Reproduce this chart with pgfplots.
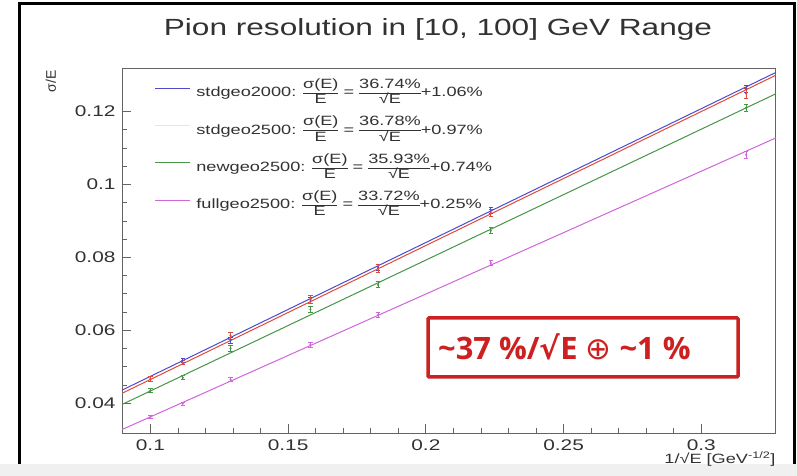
\documentclass[border=0pt]{standalone}
\usepackage{fontspec}
\setmainfont{Liberation Sans}[FakeStretch=1.35]
\newfontfamily\plainsans{Liberation Sans}
\newfontfamily\os{Open Sans}
\newfontfamily\dejavu{DejaVu Sans}
\usepackage{pgfplots}
\usepackage{pgfplotstable}
\pgfplotsset{compat=1.18}
\definecolor{cblue}{RGB}{75,75,205}
\definecolor{cred}{RGB}{222,75,60}
\definecolor{cgreen}{RGB}{70,150,70}
\definecolor{cmag}{RGB}{210,100,220}
\definecolor{cpink}{RGB}{245,222,228}
\definecolor{boxred}{RGB}{205,32,32}
\definecolor{axgray}{RGB}{100,100,100}
\definecolor{txt}{RGB}{50,50,50}
\newcommand{\fr}[2]{$\vcenter{\hbox{\setlength{\tabcolsep}{0pt}\renewcommand{\arraystretch}{1}\begin{tabular}{c}\rule[-3bp]{0pt}{12bp}#1\\\hline\rule[-2.5bp]{0pt}{11.5bp}#2\end{tabular}}}$}

\pgfplotstableread{
x y e
0.1000 0.0466 0.0006
0.1118 0.0517 0.0006
0.1291 0.0573 0.0008
0.1581 0.0683 0.0008
0.1826 0.0773 0.0008
0.2236 0.0928 0.0008
0.3162 0.1262 0.0010
}\tblue
\pgfplotstableread{
x y e
0.1000 0.0466 0.0007
0.1118 0.0511 0.0006
0.1291 0.0585 0.0010
0.1581 0.0685 0.0010
0.1826 0.0770 0.0010
0.2236 0.0922 0.0010
0.3162 0.1250 0.0014
}\tred
\pgfplotstableread{
x y e
0.1000 0.0435 0.0005
0.1118 0.0470 0.0006
0.1291 0.0550 0.0008
0.1581 0.0657 0.0009
0.1826 0.0725 0.0008
0.2236 0.0873 0.0008
0.3162 0.1210 0.0010
}\tgreen
\pgfplotstableread{
x y e
0.1000 0.0362 0.0004
0.1118 0.0399 0.0004
0.1291 0.0465 0.0005
0.1581 0.0560 0.0006
0.1826 0.0642 0.0006
0.2236 0.0785 0.0007
0.3162 0.1082 0.0010
}\tmag

\begin{document}
\begin{tikzpicture}[x=1bp,y=1bp]
\fill[white] (0,0) rectangle (797,476);
\fill[black!6] (0,0) rectangle (797,12);
\draw[black, line width=3bp] (19,12) -- (19,472) -- (794,472) -- (794,12);
\useasboundingbox (0,0) rectangle (797,476);
\node[txt, font=\fontsize{23.5}{26}\selectfont, anchor=base] at (438,440) {Pion resolution in [10, 100] GeV Range};
\begin{axis}[
  at={(122bp,43bp)}, anchor=south west,
  scale only axis, width=653.7bp, height=364.7bp,
  xmin=0.0897, xmax=0.327, ymin=0.0318, ymax=0.1319,
  xtick={0.1,0.15,0.2,0.25,0.3}, minor x tick num=4,
  ytick={0.04,0.06,0.08,0.1,0.12}, minor y tick num=3,
  tick align=inside, xtick pos=left, ytick pos=left,
  axis line style={draw=axgray, line width=0.8bp},
  every tick/.style={draw=axgray, line width=0.8bp},
  major tick length=9bp, minor tick length=5bp,
  scaled ticks=false,
  /pgf/number format/assume math mode=true,
  /pgf/number format/fixed,
  ticklabel style={font=\fontsize{15.5}{16}\selectfont, text=txt},
  xticklabel style={yshift=-3.5bp},
  yticklabel style={xshift=-3bp},
  ylabel={{\plainsans σ/E}},
  ylabel style={at={(rel axis cs:-0.1086,0.995)}, anchor=east, font=\fontsize{14}{15}\selectfont, text=txt, inner sep=0pt},
  xlabel={1/√E [GeV\textsuperscript{-1/2}]},
  xlabel style={at={(rel axis cs:1,-0.05)}, anchor=north east, font=\fontsize{13.5}{15}\selectfont, text=txt, inner sep=0pt},
  legend style={at={(rel axis cs:0.05,0.978)}, anchor=north west, draw=none, fill=none,
    font=\fontsize{13.5}{15}\selectfont, row sep=14bp, column sep=4bp, inner sep=0pt,
    nodes={inner sep=1.5bp, text=txt}},
  legend cell align=left,
  legend image code/.code={\draw[#1, line width=1bp] (0bp,0bp) -- (35bp,0bp);},
]
\addplot[cblue, line width=1bp] coordinates {(0.0897,0.043556) (0.327,0.13074)};
\addlegendentry{stdgeo2000: \fr{σ(E)}{E} = \fr{36.74\%}{√E}+1.06\%}
\addplot[cred, line width=1bp, legend image code/.code={\draw[cpink, line width=1bp] (0bp,0bp) -- (35bp,0bp);}] coordinates {(0.0897,0.042692) (0.327,0.129971)};
\addlegendentry{stdgeo2500: \fr{σ(E)}{E} = \fr{36.78\%}{√E}+0.97\%}
\addplot[cgreen, line width=1bp] coordinates {(0.0897,0.039629) (0.327,0.124891)};
\addlegendentry{newgeo2500: \fr{σ(E)}{E} = \fr{35.93\%}{√E}+0.74\%}
\addplot[cmag, line width=1bp] coordinates {(0.0897,0.032747) (0.327,0.112764)};
\addlegendentry{fullgeo2500: \fr{σ(E)}{E} = \fr{33.72\%}{√E}+0.25\%}

\addplot[cblue, only marks, mark=*, mark size=0.8bp, forget plot, error bars/.cd, y dir=both, y explicit, error bar style={line width=0.8bp}, error mark options={cblue, rotate=90, mark size=2.2bp, line width=0.8bp}] table[x=x,y=y,y error=e]{\tblue};
\addplot[cred, only marks, mark=*, mark size=0.8bp, forget plot, error bars/.cd, y dir=both, y explicit, error bar style={line width=0.8bp}, error mark options={cred, rotate=90, mark size=2.2bp, line width=0.8bp}] table[x=x,y=y,y error=e]{\tred};
\addplot[cgreen, only marks, mark=*, mark size=0.8bp, forget plot, error bars/.cd, y dir=both, y explicit, error bar style={line width=0.8bp}, error mark options={cgreen, rotate=90, mark size=2.2bp, line width=0.8bp}] table[x=x,y=y,y error=e]{\tgreen};
\addplot[cmag, only marks, mark=*, mark size=0.8bp, forget plot, error bars/.cd, y dir=both, y explicit, error bar style={line width=0.8bp}, error mark options={cmag, rotate=90, mark size=2.2bp, line width=0.8bp}] table[x=x,y=y,y error=e]{\tmag};
\end{axis}
\draw[boxred, line width=3.5bp, rounded corners=1bp] (428,99) rectangle (738,158);
\node[boxred, anchor=base west, inner sep=0pt, font=\os\bfseries\fontsize{31}{32}\selectfont] at (438,116) {\textasciitilde 37 \%/{\dejavu\bfseries √}E {\dejavu\mdseries ⊕} \textasciitilde 1 \%};
\end{tikzpicture}
\end{document}
